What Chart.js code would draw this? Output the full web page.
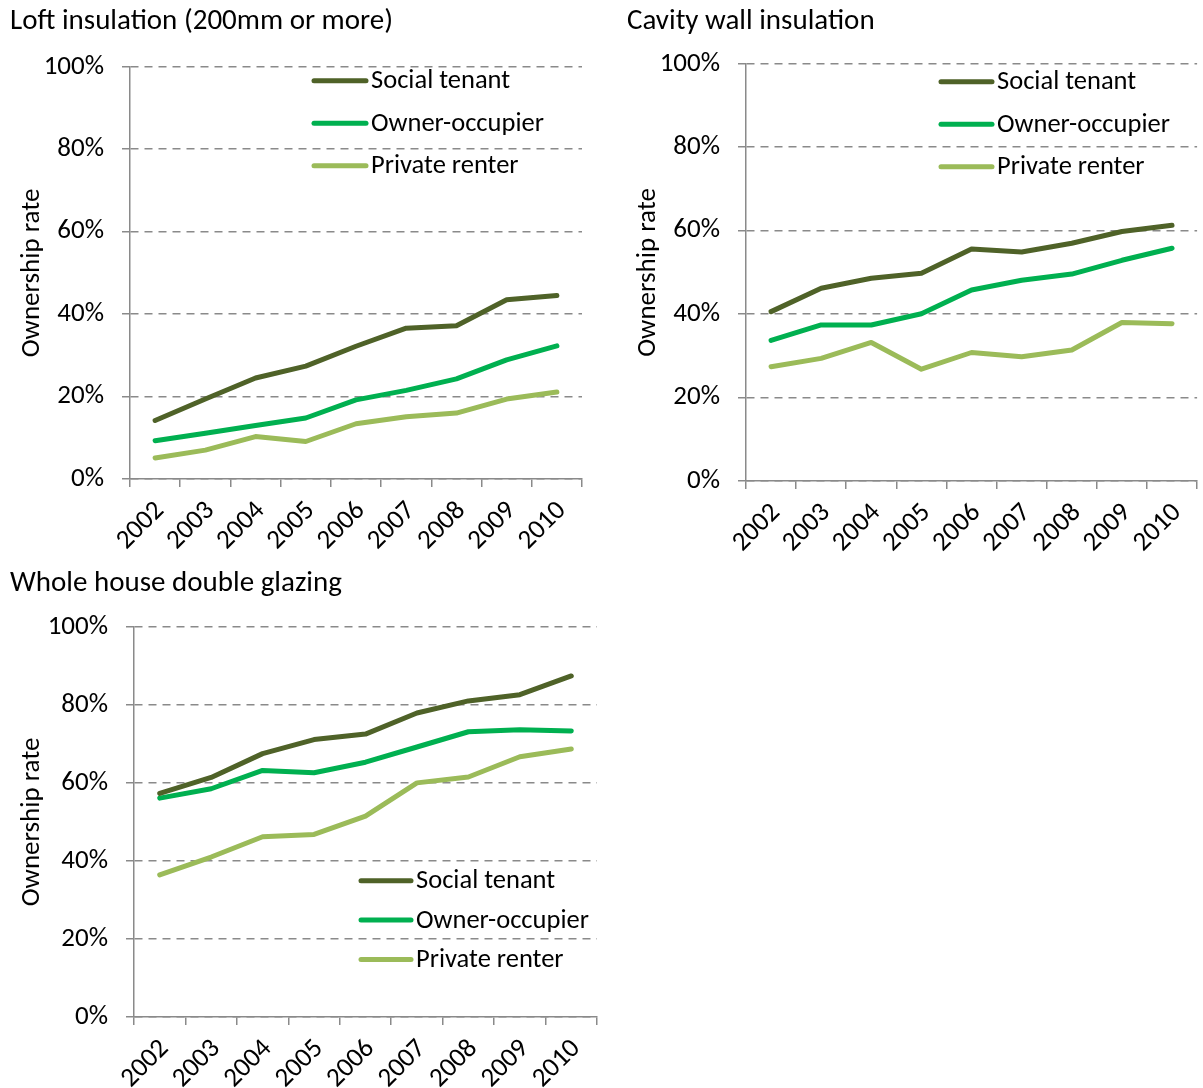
<!DOCTYPE html>
<html>
<head>
<meta charset="utf-8">
<script src="https://cdn.jsdelivr.net/npm/chart.js@4.4.1/dist/chart.umd.min.js"></script>
<style>
  html, body { margin: 0; padding: 0; background: #ffffff; }
  body { position: relative; width: 1203px; height: 1088px; overflow: hidden; }
  canvas { position: absolute; }
</style>
</head>
<body>
<canvas id="loft" width="600" height="560" style="left:0px;top:0px;"></canvas>
<canvas id="cavity" width="600" height="560" style="left:603px;top:0px;"></canvas>
<canvas id="glazing" width="620" height="528" style="left:0px;top:560px;"></canvas>
<script>
// Survey years
const years = ['2002', '2003', '2004', '2005', '2006', '2007', '2008', '2009', '2010'];

// Tenure groups
const tenures = ['Social tenant', 'Owner-occupier', 'Private renter'];

// Loft insulation (200mm or more), % of households
const loftSocial  = [14.2, 19.4, 24.5, 27.4, 32.2, 36.6, 37.2, 43.5, 44.5];
const loftOwner   = [9.3, 11.1, 13.0, 14.8, 19.2, 21.5, 24.3, 28.9, 32.3];
const loftPrivate = [5.1, 7.0, 10.3, 9.1, 13.4, 15.1, 16.0, 19.4, 21.1];

// Cavity wall insulation, % of households
const cavitySocial  = [40.6, 46.2, 48.6, 49.8, 55.6, 54.9, 57.0, 59.8, 61.3];
const cavityOwner   = [33.7, 37.4, 37.4, 40.1, 45.8, 48.1, 49.6, 52.9, 55.8];
const cavityPrivate = [27.4, 29.4, 33.2, 26.8, 30.8, 29.8, 31.4, 38.0, 37.7];

// Whole house double glazing, % of households
const glazingSocial  = [57.3, 61.4, 67.5, 71.1, 72.5, 77.9, 81.0, 82.6, 87.4];
const glazingOwner   = [56.1, 58.5, 63.2, 62.6, 65.3, 69.2, 73.1, 73.6, 73.3];
const glazingPrivate = [36.4, 41.0, 46.2, 46.8, 51.5, 60.0, 61.5, 66.7, 68.7];

// Value axis
const yMin = 0, yMax = 100, yStep = 20;
const yAxisTitle = 'Ownership rate';

const tenureColors = ['#4f6228', '#00b050', '#9bbb59'];
const FONT = "Carlito, Calibri, Lato, 'Noto Sans', sans-serif";
const GRID = '#8a8a8a';

// Legend drawn inside the plot area, offset from its top-left corner
const insetLegend = {
  id: 'insetLegend',
  afterDatasetsDraw(chart, args, opts) {
    const ctx = chart.ctx;
    const area = chart.chartArea;
    ctx.save();
    ctx.font = `${opts.fontSize}px ${FONT}`;
    ctx.textBaseline = 'middle';
    ctx.textAlign = 'left';
    chart.data.datasets.forEach((ds, i) => {
      const y = area.top + opts.dy + i * opts.rowGap;
      const x0 = area.left + opts.dx;
      ctx.strokeStyle = ds.borderColor;
      ctx.lineWidth = 5;
      ctx.lineCap = 'round';
      ctx.beginPath();
      ctx.moveTo(x0 + 2, y);
      ctx.lineTo(x0 + opts.lineLength - 2, y);
      ctx.stroke();
      ctx.fillStyle = '#000000';
      ctx.fillText(ds.label, x0 + opts.lineLength + 3, y + 1);
    });
    ctx.restore();
  }
};

function makeChart(id, title, series, cfg) {
  const datasets = series.map((values, i) => ({
    label: tenures[i],
    data: values,
    borderColor: tenureColors[i],
    backgroundColor: tenureColors[i],
    borderWidth: 5,
    borderCapStyle: 'round',
    borderJoinStyle: 'round',
    pointRadius: 0,
    pointHoverRadius: 0,
    tension: 0,
    fill: false
  }));
  return new Chart(document.getElementById(id), {
    type: 'line',
    data: { labels: years, datasets },
    plugins: [insetLegend],
    options: {
      responsive: false,
      animation: false,
      events: [],
      layout: { padding: { left: cfg.padLeft, right: cfg.padRight, top: 0, bottom: 0 } },
      plugins: {
        legend: { display: false },
        tooltip: { enabled: false },
        title: {
          display: true,
          text: title,
          align: 'start',
          color: '#000000',
          font: { family: FONT, size: 29, weight: 'normal', lineHeight: 1.2 },
          padding: { top: cfg.titleTop, bottom: cfg.titleBottom }
        },
        insetLegend: cfg.legend
      },
      scales: {
        x: {
          type: 'category',
          offset: true,
          afterFit(scale) { scale.height = cfg.xHeight; },
          grid: {
            offset: true,
            drawOnChartArea: false,
            drawTicks: true,
            tickLength: 8,
            color: GRID,
            lineWidth: 1.5
          },
          border: { display: true, color: GRID, width: 1.5 },
          ticks: {
            minRotation: 45,
            maxRotation: 45,
            autoSkip: false,
            padding: 8,
            labelOffset: 5,
            color: '#000000',
            font: { family: FONT, size: 27 }
          }
        },
        y: {
          min: yMin,
          max: yMax,
          afterFit(scale) { scale.width = cfg.yWidth; },
          grid: {
            color: GRID,
            lineWidth: 1.5,
            drawTicks: true,
            tickLength: 8,
            tickBorderDash: [],
            tickColor: GRID
          },
          border: { display: true, color: GRID, width: 1.5, dash: [8, 6] },
          ticks: {
            stepSize: yStep,
            padding: 18,
            color: '#000000',
            font: { family: FONT, size: 27 },
            callback: (v) => v + '%'
          },
          title: {
            display: true,
            text: yAxisTitle,
            color: '#000000',
            font: { family: FONT, size: 27, lineHeight: 1.2 },
            padding: { top: cfg.yTitlePad, bottom: 0 }
          }
        }
      }
    }
  });
}

makeChart('loft', 'Loft insulation (200mm or more)', [loftSocial, loftOwner, loftPrivate], {
  padLeft: 10, padRight: 18, yWidth: 120, xHeight: 81,
  titleTop: 4, titleBottom: 28, yTitlePad: 6,
  legend: { dx: 182, dy: 14, rowGap: 42.5, lineLength: 56, fontSize: 26.5 }
});

makeChart('cavity', 'Cavity wall insulation', [cavitySocial, cavityOwner, cavityPrivate], {
  padLeft: 24, padRight: 1, yWidth: 119, xHeight: 79,
  titleTop: 4, titleBottom: 25, yTitlePad: 5,
  legend: { dx: 193, dy: 18, rowGap: 42.5, lineLength: 55, fontSize: 26.5 }
});

makeChart('glazing', 'Whole house double glazing', [glazingSocial, glazingOwner, glazingPrivate], {
  padLeft: 10, padRight: 23, yWidth: 124, xHeight: 71,
  titleTop: 6, titleBottom: 26, yTitlePad: 6,
  legend: { dx: 225, dy: 254, rowGap: 39.3, lineLength: 54, fontSize: 26.5 }
});
</script>
</body>
</html>
